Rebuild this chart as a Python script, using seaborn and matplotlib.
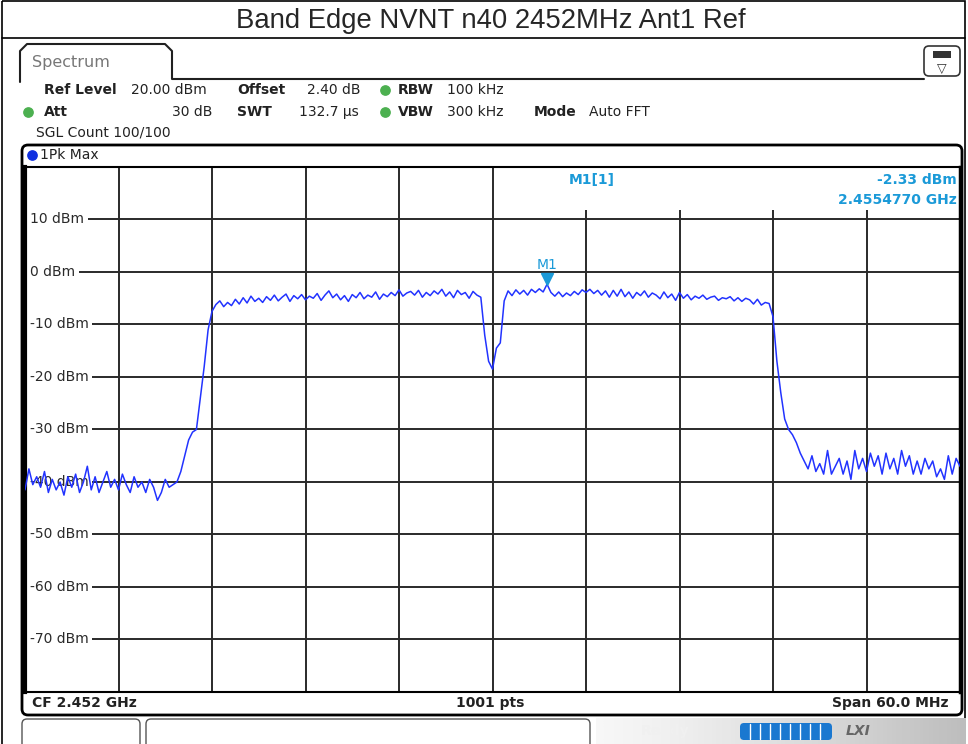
import numpy as np
import pandas as pd
import seaborn as sns
import matplotlib.pyplot as plt
from matplotlib.patches import Rectangle, FancyBboxPatch

W, H = 968, 744

### trace levels in dBm, 0.25 MHz apart
noise_left = [-41.5, -37.5, -40.5, -39.0, -41.0, -38.0, -42.0, -39.5, -41.5, -40.0,
              -42.5, -39.0, -41.0, -38.5, -42.0, -40.0, -37.0, -41.5, -39.0, -42.0,
              -40.0, -38.0, -41.0, -39.5, -41.5, -38.5, -40.5, -42.0, -39.0, -41.0,
              -40.0, -42.0, -39.5, -41.0, -43.5, -42.0, -39.5, -41.0, -40.5]
rise = [-40.0, -38.0, -35.0, -32.0, -30.5, -30.0, -24.0, -18.0, -11.0, -7.5]
band_left = [-6.2, -5.5, -6.6, -5.8, -6.4, -5.2, -6.1, -4.9, -5.9, -4.6,
             -5.6, -5.0, -5.8, -4.7, -5.4, -4.4, -5.5, -4.8, -4.2, -5.6,
             -4.5, -5.1, -4.3, -5.3, -4.6, -5.0, -4.1, -5.4, -4.4, -3.6,
             -4.9, -4.2, -5.3, -4.5, -5.6, -4.3, -4.9, -3.9, -5.1, -4.4,
             -4.8, -3.8, -5.2, -4.2, -4.7, -3.9, -4.5, -3.4, -4.6, -4.0,
             -3.7, -4.4, -3.5, -4.8, -3.9, -4.5, -3.6, -4.2, -3.3, -4.6,
             -3.8, -4.9, -3.5, -4.3, -3.9, -5.0, -3.7, -4.4, -4.8]
notch = [-12.0, -17.0, -18.5, -14.5, -13.5, -5.5]
band_right = [-3.6, -4.5, -3.4, -4.2, -3.5, -4.4, -3.3, -3.9, -3.2, -3.8,
              -2.33, -3.9, -4.6, -3.8, -4.7, -4.0, -4.5, -3.7, -4.3, -3.4,
              -3.9, -3.3, -4.1, -3.5, -4.4, -3.6, -4.8, -3.5, -4.6, -3.3,
              -4.7, -3.8, -5.0, -3.9, -4.5, -3.6, -4.8, -4.0, -4.4, -5.1,
              -3.8, -4.9, -4.2, -5.4, -3.9, -5.0, -4.3, -5.3, -4.6, -5.0,
              -4.4, -5.2, -4.8, -4.6, -5.4, -4.9, -5.1, -4.7, -5.5, -4.9,
              -5.6, -5.0, -5.3, -6.1, -5.2, -6.3, -5.8]
fall = [-6.0, -8.5, -17.0, -23.0, -28.0, -30.0, -31.0, -32.5, -34.5, -36.0]
noise_right = [-37.5, -35.0, -38.0, -36.5, -38.5, -34.0, -38.5, -37.0, -35.5, -38.5,
               -36.0, -39.5, -34.0, -37.5, -35.5, -38.0, -34.5, -37.0, -35.0, -38.5,
               -34.5, -37.5, -35.5, -38.5, -34.0, -37.0, -35.0, -38.5, -36.0, -38.5,
               -35.5, -37.5, -36.0, -39.0, -37.5, -39.5, -35.0, -38.5, -35.5, -37.0]

levels = noise_left + rise + band_left + notch + band_right + fall + noise_right
start_mhz, stop_mhz = 2422.0, 2482.0
freq = np.linspace(start_mhz, stop_mhz, len(levels))
df = pd.DataFrame({"freq": freq, "level": levels})

y_ticks = [10, 0, -10, -20, -30, -40, -50, -60, -70]
y_labels = [f"{v} dBm" for v in y_ticks]
marker_freq = 2455.477
marker_level = -2.33

sns.set_style("white")
plt.rcParams["font.family"] = ["DejaVu Sans"]

blue_txt = "#1b9ad8"
fig = plt.figure(figsize=(W / 100, H / 100), dpi=100)

### background layer in pixel coords (screen decoration)
bg = fig.add_axes([0, 0, 1, 1])
bg.set_xlim(0, W)
bg.set_ylim(H, 0)
bg.axis("off")

bg.add_patch(Rectangle((2, 1), 963, 750, fill=False, ec="black", lw=1.2))
bg.plot([2, 965], [38, 38], color="black", lw=1.2)
bg.text(491, 21, "Band Edge NVNT n40 2452MHz Ant1 Ref", ha="center", va="center",
        fontsize=19.8, family="Liberation Sans")

# spectrum tab
bg.plot([20, 20, 27, 165, 172, 172, 924], [82, 51, 44, 44, 51, 79, 79], color="#202020", lw=1.5)
bg.text(32, 62, "Spectrum", ha="left", va="center", fontsize=11.5, color="#777777")
bg.add_patch(FancyBboxPatch((924, 46), 36, 30, boxstyle="round,pad=0,rounding_size=5",
                            fc="white", ec="#333333", lw=1.2))
bg.add_patch(Rectangle((933, 51), 18, 7, fc="#333333", ec="none"))
bg.text(942, 68, "▽", ha="center", va="center", fontsize=9, color="#333333")

hdr = dict(va="center", fontsize=10, color="#222222")
bg.text(44, 90, "Ref Level", fontweight="bold", **hdr)
bg.text(131, 90, "20.00 dBm", **hdr)
bg.text(237, 90, "Offset", fontweight="bold", **hdr)
bg.text(307, 90, "2.40 dB", **hdr)
bg.text(398, 90, "RBW", fontweight="bold", **hdr)
bg.text(447, 90, "100 kHz", **hdr)
bg.text(44, 112, "Att", fontweight="bold", **hdr)
bg.text(212, 112, "30 dB", ha="right", **hdr)
bg.text(237, 112, "SWT", fontweight="bold", **hdr)
bg.text(299, 112, "132.7 µs", **hdr)
bg.text(398, 112, "VBW", fontweight="bold", **hdr)
bg.text(447, 112, "300 kHz", **hdr)
bg.text(534, 112, "Mode", fontweight="bold", **hdr)
bg.text(589, 112, "Auto FFT", **hdr)
bg.text(36, 133, "SGL Count 100/100", **hdr)
bg.scatter([28, 385, 385], [112, 90, 112], s=45, color="#4cb050", zorder=3)

# trace panel frame
bg.add_patch(FancyBboxPatch((22, 145), 940, 570, boxstyle="round,pad=0,rounding_size=6",
                            fc="white", ec="black", lw=2))
bg.scatter([32], [155], s=45, color="#1030e0", zorder=3)
bg.text(40, 155, "1Pk Max", **hdr)
bg.text(32, 703, "CF 2.452 GHz", fontweight="bold", ha="left", **hdr)
bg.text(490, 703, "1001 pts", fontweight="bold", ha="center", **hdr)
bg.text(948, 703, "Span 60.0 MHz", fontweight="bold", ha="right", **hdr)

# status bar
bg.add_patch(FancyBboxPatch((22, 719), 118, 30, boxstyle="round,pad=0,rounding_size=5",
                            fc="white", ec="#555555", lw=1))
bg.add_patch(FancyBboxPatch((146, 719), 444, 30, boxstyle="round,pad=0,rounding_size=5",
                            fc="white", ec="#555555", lw=1))
grad = np.linspace(0, 1, 200).reshape(1, -1)
bg.imshow(grad, extent=(596, 966, 744, 718), cmap="Greys", vmin=-0.2, vmax=3.0,
          aspect="auto", zorder=1)
bg.text(665, 731, "Ready", ha="center", va="center", fontsize=10, color="#f0f0f0",
        fontweight="bold", zorder=2)
bg.add_patch(FancyBboxPatch((740, 723), 92, 17, boxstyle="round,pad=0,rounding_size=4",
                            fc="#1a78d0", ec="none", zorder=2))
for sx in range(750, 830, 10):
    bg.plot([sx, sx], [724, 739], color="white", lw=1, zorder=3)
bg.text(858, 731, "LXI", ha="center", va="center", fontsize=10, color="#666666",
        fontweight="bold", style="italic", zorder=2)
bg.set_xlim(0, W)
bg.set_ylim(H, 0)

### trace axes
ax = fig.add_axes([25 / W, 1 - 692 / H, 935 / W, 525 / H])
ax.set_facecolor("white")
ax.set_xlim(start_mhz, stop_mhz)
ax.set_ylim(-80, 20)
ax.set_xticks(np.arange(start_mhz, stop_mhz + 1, 6))
ax.set_yticks(range(-80, 21, 10))
ax.set_axisbelow(True)
ax.grid(True, color="#2a2a2a", lw=1.4)
ax.tick_params(length=0, labelbottom=False, labelleft=False)
for side, sp in ax.spines.items():
    sp.set_color("black")
    sp.set_linewidth(1.5)
ax.spines["left"].set_linewidth(3)
ax.spines["right"].set_linewidth(2.5)

# marker info box hides the upper grid on the right
ax.add_patch(Rectangle((2452.25, 11.8), stop_mhz - 2452.25, 8.1, fc="white", ec="none", zorder=1))

for v, lab in zip(y_ticks, y_labels):
    ax.text(start_mhz + 0.33, v, lab, ha="left", va="center", fontsize=10, color="#2a2a2a",
            bbox=dict(fc="white", ec="none", pad=2.5), zorder=2)

sns.lineplot(data=df, x="freq", y="level", ax=ax, color="#2233ff", lw=1.1, zorder=3)
ax.set_xlabel("")
ax.set_ylabel("")

ax.plot([marker_freq], [marker_level + 1.0], marker="v", markersize=8, color=blue_txt,
        ls="none", zorder=4)
ax.text(marker_freq, marker_level + 2.3, "M1", ha="center", va="bottom", fontsize=10,
        color=blue_txt, zorder=4)

fig.text(569 / W, 1 - 180 / H, "M1[1]", ha="left", va="center", fontsize=10,
         fontweight="bold", color=blue_txt)
fig.text(957 / W, 1 - 180 / H, f"{marker_level:.2f} dBm", ha="right", va="center",
         fontsize=10, fontweight="bold", color=blue_txt)
fig.text(957 / W, 1 - 200 / H, f"{marker_freq / 1000:.7f} GHz", ha="right", va="center",
         fontsize=10, fontweight="bold", color=blue_txt)

fig.savefig("out.png", dpi=100)
